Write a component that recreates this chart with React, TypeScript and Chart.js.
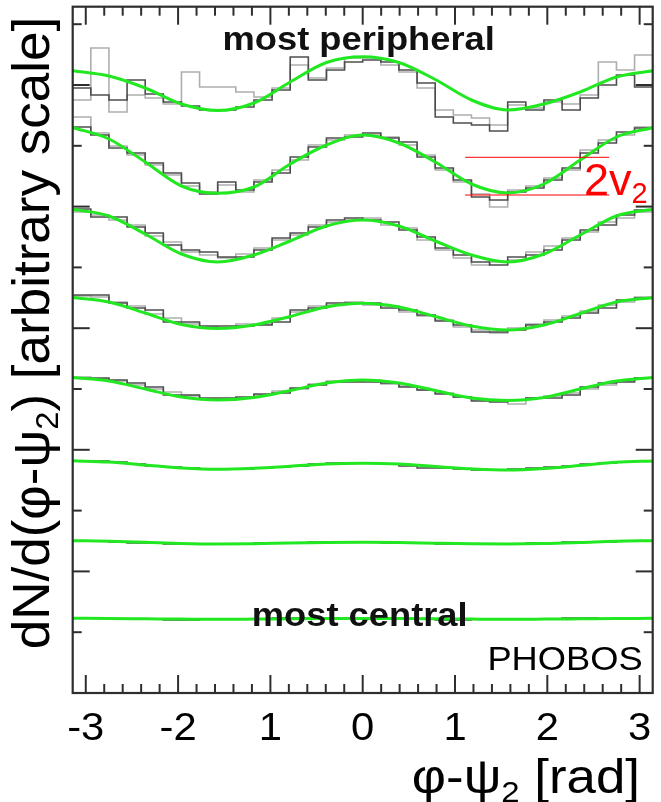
import React, { useEffect, useRef } from "react";
import { Chart, registerables } from "chart.js";

Chart.register(...registerables);

// ---------- axes ----------
const X_MIN = -Math.PI;
const X_MAX = Math.PI;
const Y_MIN = 0;
const Y_MAX = 68.63;
const BIN_COUNT = 32;

const X_TICK_VALUES = [-3, -2, -1, 0, 1, 2, 3];
const X_TICK_LABELS = ["-3", "-2", "1", "0", "1", "2", "3"];
const X_MINOR_TICKS = [
  -2.8, -2.6, -2.4, -2.2, -1.8, -1.6, -1.4, -1.2, -0.8, -0.6, -0.4, -0.2,
  0.2, 0.4, 0.6, 0.8, 1.2, 1.4, 1.6, 1.8, 2.2, 2.4, 2.6, 2.8,
];
const Y_MAJOR_TICKS = [12.16, 24.32, 36.48, 48.64, 60.8];
const Y_MINOR_TICKS = [6.08, 18.24, 30.4, 42.56, 54.72, 66.88];

// ---------- fit curves (sampled at pi/8 steps) ----------
const FIT_X = [
  -3.1416, -2.7489, -2.3562, -1.9635, -1.5708, -1.1781, -0.7854, -0.3927, 0,
  0.3927, 0.7854, 1.1781, 1.5708, 1.9635, 2.3562, 2.7489, 3.1416,
];
const FIT_1 = [62.23, 61.7, 60.5, 58.9, 58.25, 59.0, 61.1, 63.05, 63.63, 63.05, 61.35, 59.3, 58.3, 58.9, 60.1, 61.6, 62.23];
const FIT_2 = [56.55, 55.4, 53.1, 50.7, 49.97, 50.6, 52.9, 54.8, 55.8, 55.0, 53.1, 50.9, 50.0, 50.9, 53.3, 55.6, 56.53];
const FIT_3 = [48.37, 47.7, 45.9, 43.9, 43.1, 43.8, 45.2, 46.7, 47.3, 46.7, 45.2, 43.8, 43.1, 43.9, 45.8, 47.7, 48.37];
const FIT_4 = [39.55, 39.1, 38.0, 36.85, 36.45, 36.8, 37.65, 38.6, 38.97, 38.6, 37.65, 36.7, 36.3, 36.8, 37.95, 39.1, 39.53];
const FIT_5 = [31.54, 31.2, 30.4, 29.6, 29.3, 29.55, 30.25, 31.0, 31.3, 31.0, 30.25, 29.5, 29.25, 29.55, 30.4, 31.2, 31.56];
const FIT_6 = [23.22, 23.1, 22.8, 22.5, 22.37, 22.47, 22.67, 22.9, 22.97, 22.9, 22.65, 22.42, 22.3, 22.45, 22.75, 23.07, 23.2];
const FIT_7 = [15.23, 15.18, 15.07, 14.95, 14.9, 14.93, 15.0, 15.05, 15.07, 15.05, 14.98, 14.92, 14.9, 14.94, 15.05, 15.18, 15.23];
const FIT_8 = [7.47, 7.45, 7.42, 7.39, 7.37, 7.39, 7.42, 7.44, 7.45, 7.44, 7.42, 7.39, 7.37, 7.39, 7.42, 7.45, 7.47];

// ---------- histograms (32 bins from -pi to pi) ----------
const HIST_DARK_1 = [60.5, 59.8, 59.3, 61.3, 59.9, 59.1, 58.7, 58.3, 58.3, 58.6, 59.3, 60.3, 63.6, 61.3, 62.3, 63.1, 63.3, 63.1, 62.3, 61.0, 57.6, 57.0, 56.8, 56.2, 59.1, 58.3, 59.3, 58.3, 59.5, 60.8, 61.8, 60.6];
const HIST_LIGHT_1 = [59.3, 64.5, 58.1, 59.8, 59.5, 58.9, 62.1, 60.6, 60.6, 60.1, 59.6, 60.5, 62.8, 61.5, 62.5, 63.5, 63.5, 62.8, 62.1, 60.5, 58.3, 57.8, 57.5, 56.8, 58.8, 58.5, 59.1, 58.9, 59.8, 63.1, 62.3, 63.8];
const HIST_DARK_2 = [56.6, 55.8, 54.5, 54.0, 53.0, 52.0, 51.0, 49.9, 51.1, 50.3, 51.1, 52.0, 53.6, 54.6, 55.5, 55.6, 56.0, 55.5, 55.1, 53.6, 52.5, 51.3, 49.6, 49.3, 50.1, 50.5, 51.3, 52.5, 54.0, 55.0, 56.1, 56.5];
const HIST_LIGHT_2 = [57.6, 56.0, 54.7, 53.8, 52.8, 51.8, 50.7, 50.1, 50.8, 50.1, 51.3, 52.3, 53.3, 54.8, 55.3, 55.8, 55.8, 55.6, 54.8, 53.8, 52.3, 51.1, 49.9, 48.6, 50.3, 50.7, 51.5, 52.3, 54.3, 55.3, 55.8, 56.6];
const HIST_DARK_3 = [48.4, 47.6, 47.6, 46.6, 46.0, 44.8, 44.3, 44.1, 43.6, 43.6, 44.3, 45.5, 46.0, 46.6, 47.3, 47.5, 47.3, 47.1, 46.3, 45.6, 44.5, 43.8, 43.1, 42.8, 43.6, 43.8, 44.3, 45.3, 46.3, 46.8, 47.8, 48.3];
const HIST_LIGHT_3 = [48.1, 47.8, 47.3, 46.8, 45.7, 45.1, 44.1, 43.8, 43.5, 43.9, 44.5, 45.3, 45.8, 46.8, 47.1, 47.3, 47.5, 46.8, 46.5, 45.3, 44.3, 43.5, 42.8, 43.1, 43.3, 44.1, 44.7, 45.5, 46.1, 47.1, 47.5, 48.1];
const HIST_DARK_4 = [39.8, 39.8, 39.0, 38.5, 38.3, 37.1, 37.1, 36.7, 36.7, 36.7, 36.8, 37.1, 38.3, 38.5, 39.0, 39.0, 39.0, 38.5, 38.3, 37.8, 37.2, 36.8, 36.1, 36.1, 36.3, 36.8, 37.1, 37.5, 38.0, 38.5, 39.3, 39.5];
const HIST_LIGHT_4 = [39.7, 39.6, 39.1, 38.7, 37.9, 37.5, 36.9, 36.6, 36.5, 36.9, 36.9, 37.5, 38.1, 38.7, 38.8, 39.1, 38.8, 38.7, 38.1, 37.7, 37.3, 36.6, 36.3, 36.0, 36.5, 36.9, 37.3, 37.7, 38.2, 38.8, 39.1, 39.6];
const HIST_DARK_5 = [31.5, 31.5, 31.3, 31.0, 30.6, 29.8, 29.8, 29.5, 29.5, 29.6, 29.9, 30.0, 30.5, 30.8, 31.1, 31.1, 31.1, 31.0, 30.6, 30.3, 29.9, 29.6, 29.2, 29.1, 29.3, 29.5, 29.5, 29.8, 30.6, 31.0, 31.1, 31.5];
const HIST_LIGHT_5 = [31.6, 31.4, 31.2, 30.8, 30.4, 30.1, 29.7, 29.4, 29.3, 29.5, 29.8, 30.2, 30.4, 30.9, 31.2, 31.2, 31.3, 30.9, 30.7, 30.3, 30.0, 29.6, 29.3, 29.2, 28.9, 29.5, 29.7, 30.0, 30.4, 30.8, 31.2, 31.5];
const HIST_DARK_6 = [23.2, 23.2, 23.1, 22.9, 22.7, 22.6, 22.5, 22.4, 22.4, 22.4, 22.5, 22.6, 22.7, 22.9, 23.0, 23.0, 23.0, 22.9, 22.7, 22.5, 22.5, 22.4, 22.3, 22.3, 22.4, 22.5, 22.6, 22.7, 22.9, 23.0, 23.1, 23.2];
const HIST_DARK_7 = [15.2, 15.2, 15.1, 15.0, 15.0, 14.9, 14.9, 14.9, 14.9, 14.9, 15.0, 15.0, 15.0, 15.1, 15.1, 15.1, 15.1, 15.0, 15.0, 15.0, 14.9, 14.9, 14.9, 14.9, 14.9, 15.0, 15.0, 15.1, 15.1, 15.1, 15.2, 15.2];
const HIST_DARK_8 = [7.5, 7.5, 7.4, 7.4, 7.4, 7.3, 7.3, 7.4, 7.4, 7.4, 7.4, 7.5, 7.5, 7.4, 7.4, 7.4, 7.5, 7.4, 7.4, 7.4, 7.3, 7.3, 7.4, 7.4, 7.4, 7.4, 7.4, 7.5, 7.5, 7.4, 7.4, 7.5];

const FITS = [FIT_1, FIT_2, FIT_3, FIT_4, FIT_5, FIT_6, FIT_7, FIT_8];
const HISTS_DARK = [HIST_DARK_1, HIST_DARK_2, HIST_DARK_3, HIST_DARK_4, HIST_DARK_5, HIST_DARK_6, HIST_DARK_7, HIST_DARK_8];
const HISTS_LIGHT = [HIST_LIGHT_1, HIST_LIGHT_2, HIST_LIGHT_3, HIST_LIGHT_4, HIST_LIGHT_5];

// ---------- 2v2 marker lines ----------
const MARK_X = [1.11, 2.67];
const MARK_Y = [53.57, 49.8];

// ---------- styles ----------
const FONT = "'Liberation Sans', Arial, Helvetica, sans-serif";
const GREEN = "rgb(34, 232, 34)";
const DARK = "rgba(70, 70, 70, 0.95)";
const LIGHT = "rgba(170, 170, 170, 0.95)";
const AXIS = "#2e2e2e";

const binEdges = Array.from(
  { length: BIN_COUNT + 1 },
  (_, i) => X_MIN + (i * (X_MAX - X_MIN)) / BIN_COUNT
);
const histPoints = (vals: number[]) =>
  binEdges.map((x, i) => ({ x, y: vals[Math.min(i, vals.length - 1)] }));

function drawStretched(
  ctx: CanvasRenderingContext2D,
  text: string,
  x: number,
  y: number,
  font: string,
  align: CanvasTextAlign,
  sx: number,
  color = "#000"
) {
  ctx.save();
  ctx.font = font;
  ctx.fillStyle = color;
  ctx.textAlign = align;
  ctx.textBaseline = "alphabetic";
  ctx.translate(x, y);
  ctx.scale(sx, 1);
  ctx.fillText(text, 0, 0);
  ctx.restore();
}

type Piece = { t: string; size: number; dy: number; weight?: string };

function piecesWidth(ctx: CanvasRenderingContext2D, pieces: Piece[]) {
  let w = 0;
  for (const p of pieces) {
    ctx.font = `${p.weight || "normal"} ${p.size}px ${FONT}`;
    w += ctx.measureText(p.t).width;
  }
  return w;
}

function drawPieces(ctx: CanvasRenderingContext2D, pieces: Piece[], x0: number, y0: number, color: string) {
  let x = x0;
  ctx.fillStyle = color;
  ctx.textAlign = "left";
  ctx.textBaseline = "alphabetic";
  for (const p of pieces) {
    ctx.font = `${p.weight || "normal"} ${p.size}px ${FONT}`;
    ctx.fillText(p.t, x, y0 + p.dy);
    x += ctx.measureText(p.t).width;
  }
}

const decorPlugin = {
  id: "decor",
  afterDraw(chart: any) {
    const { ctx, chartArea: a, scales } = chart;
    const xs = scales.x;
    const ys = scales.y;
    ctx.save();

    // inward ticks
    ctx.strokeStyle = AXIS;
    ctx.lineWidth = 2;
    const seg = (x1: number, y1: number, x2: number, y2: number) => {
      ctx.beginPath();
      ctx.moveTo(x1, y1);
      ctx.lineTo(x2, y2);
      ctx.stroke();
    };
    const xTick = (v: number, len: number) => {
      const p = xs.getPixelForValue(v);
      seg(p, a.bottom, p, a.bottom - len);
      seg(p, a.top, p, a.top + len);
    };
    const yTick = (v: number, len: number) => {
      const p = ys.getPixelForValue(v);
      seg(a.left, p, a.left + len, p);
      seg(a.right, p, a.right - len, p);
    };
    X_TICK_VALUES.forEach((v) => xTick(v, 18));
    X_MINOR_TICKS.forEach((v) => xTick(v, 9));
    Y_MAJOR_TICKS.forEach((v) => yTick(v, 17));
    Y_MINOR_TICKS.forEach((v) => yTick(v, 9));

    // frame
    ctx.lineWidth = 2.2;
    ctx.strokeRect(a.left, a.top, a.right - a.left, a.bottom - a.top);

    // tick labels
    X_TICK_VALUES.forEach((v, i) => {
      drawStretched(ctx, X_TICK_LABELS[i], xs.getPixelForValue(v), a.bottom + 47, `normal 38px ${FONT}`, "center", 1.1);
    });

    // x title
    const xPieces: Piece[] = [
      { t: "φ-ψ", size: 48, dy: 0 },
      { t: "2", size: 30, dy: 9 },
      { t: " [rad]", size: 48, dy: 0 },
    ];
    ctx.save();
    const xw = piecesWidth(ctx, xPieces) * 1.1;
    ctx.translate(640 - xw, a.bottom + 100);
    ctx.scale(1.1, 1);
    drawPieces(ctx, xPieces, 0, 0, "#000");
    ctx.restore();

    // y title
    const YS = 1.02;
    const yPieces: Piece[] = [
      { t: "dN/d(φ-ψ", size: 52, dy: 0 },
      { t: "2", size: 32, dy: 9 },
      { t: ") [arbitrary scale]", size: 52, dy: 0 },
    ];
    ctx.save();
    const yw = piecesWidth(ctx, yPieces);
    ctx.translate(49, 333);
    ctx.rotate(-Math.PI / 2);
    ctx.scale(YS, 1);
    drawPieces(ctx, yPieces, -yw / 2, 0, "#000");
    ctx.restore();

    // annotations
    const cx = (a.left + a.right) / 2;
    drawStretched(ctx, "most peripheral", cx - 4, a.top + 43, `bold 33px ${FONT}`, "center", 1.1, "#111");
    drawStretched(ctx, "most central", cx - 3, a.bottom - 67, `bold 33px ${FONT}`, "center", 1.1, "#111");
    drawStretched(ctx, "PHOBOS", a.right - 10, a.bottom - 23, `normal 33px ${FONT}`, "right", 1.1, "#000");

    // 2v2 label
    const vPieces: Piece[] = [
      { t: "2v", size: 45, dy: 0 },
      { t: "2", size: 29, dy: 8 },
    ];
    drawPieces(ctx, vPieces, 584, ys.getPixelForValue(MARK_Y[1]), "rgb(255, 0, 0)");

    ctx.restore();
  },
};

export default function App() {
  const ref = useRef<HTMLCanvasElement | null>(null);

  useEffect(() => {
    document.body.style.margin = "0";
    const canvas = ref.current;
    if (!canvas) return;

    const datasets: any[] = [];
    FITS.forEach((f, i) => {
      datasets.push({
        label: `fit ${i + 1}`,
        data: FIT_X.map((x, j) => ({ x, y: f[j] })),
        borderColor: GREEN,
        borderWidth: 3,
        pointRadius: 0,
        cubicInterpolationMode: "monotone",
        fill: false,
        order: 1,
      });
    });
    HISTS_DARK.forEach((h, i) => {
      datasets.push({
        label: `data ${i + 1}`,
        data: histPoints(h),
        borderColor: DARK,
        borderWidth: 1.6,
        pointRadius: 0,
        stepped: "before",
        fill: false,
        order: 2,
      });
    });
    HISTS_LIGHT.forEach((h, i) => {
      datasets.push({
        label: `data b ${i + 1}`,
        data: histPoints(h),
        borderColor: LIGHT,
        borderWidth: 1.6,
        pointRadius: 0,
        stepped: "before",
        fill: false,
        order: 3,
      });
    });
    MARK_Y.forEach((yv, i) => {
      datasets.push({
        label: `mark ${i + 1}`,
        data: MARK_X.map((x) => ({ x, y: yv })),
        borderColor: "rgb(255, 0, 0)",
        borderWidth: 1,
        pointRadius: 0,
        fill: false,
        order: 0,
      });
    });

    const chart = new Chart(canvas, {
      type: "line",
      data: { datasets },
      options: {
        animation: false,
        responsive: false,
        devicePixelRatio: 1,
        layout: { padding: { left: 72.7, right: 8.3, top: 6.7, bottom: 109 } },
        plugins: { legend: { display: false }, tooltip: { enabled: false } },
        scales: {
          x: { type: "linear", min: X_MIN, max: X_MAX, display: false },
          y: { type: "linear", min: Y_MIN, max: Y_MAX, display: false },
        },
      },
      plugins: [decorPlugin],
    });
    return () => chart.destroy();
  }, []);

  return (
    <div style={{ width: 661, height: 802, background: "#fff" }}>
      <canvas ref={ref} width={661} height={802} style={{ display: "block" }} />
    </div>
  );
}
